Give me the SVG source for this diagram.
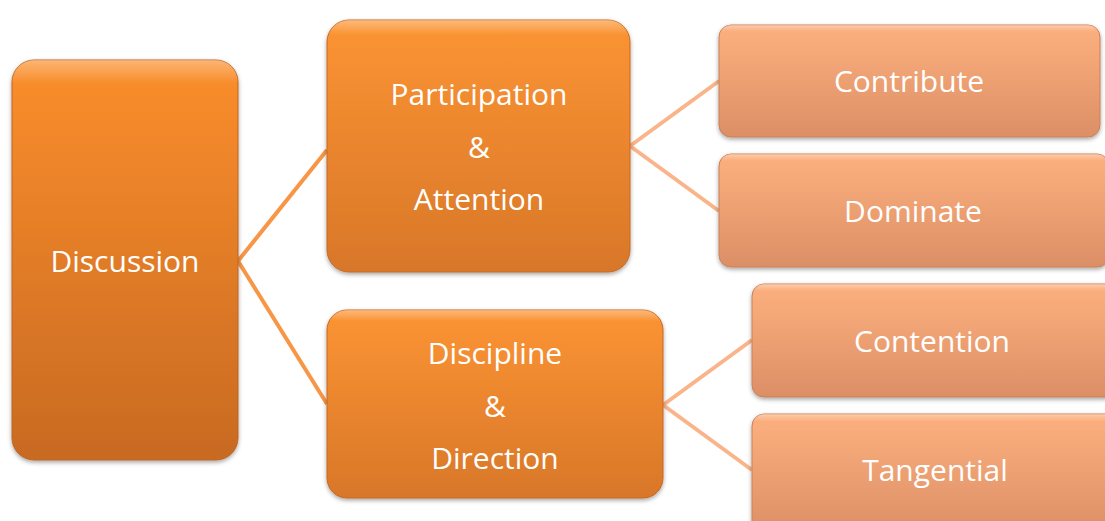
<svg xmlns="http://www.w3.org/2000/svg" width="1105" height="521" viewBox="0 0 1105 521">
<defs>
<linearGradient id="gMain" x1="0" y1="0" x2="0" y2="1">
<stop offset="0" stop-color="#fb8e2c"/>
<stop offset="1" stop-color="#c86a22"/>
</linearGradient>
<linearGradient id="gMid" x1="0" y1="0" x2="0" y2="1">
<stop offset="0" stop-color="#fc9432"/>
<stop offset="1" stop-color="#d8772a"/>
</linearGradient>
<linearGradient id="gLeaf" x1="0" y1="0" x2="0" y2="1">
<stop offset="0" stop-color="#fdb07e"/>
<stop offset="1" stop-color="#dc8f65"/>
</linearGradient>
<linearGradient id="gGloss" x1="0" y1="0" x2="0" y2="1">
<stop offset="0" stop-color="#ffffff" stop-opacity="0.35"/>
<stop offset="0.06" stop-color="#ffffff" stop-opacity="0"/>
<stop offset="1" stop-color="#ffffff" stop-opacity="0"/>
</linearGradient>
<filter id="shadow" x="-10%" y="-10%" width="120%" height="125%">
<feDropShadow dx="0" dy="2" stdDeviation="2" flood-color="#000" flood-opacity="0.35"/>
</filter>
</defs>
<style>
.t{font-family:"Open Sans","Liberation Sans",sans-serif;fill:#ffffff;text-anchor:middle;dominant-baseline:central;font-size:30px}
.edgeMain{stroke:#f79646;stroke-width:4;fill:none}
.edgeLeaf{stroke:#fab48a;stroke-width:4;fill:none}
.main{fill:url(#gMain);stroke:#c0651f;stroke-width:1;filter:url(#shadow)}
.mid{fill:url(#gMid);stroke:#c8681f;stroke-width:1;filter:url(#shadow)}
.leaf{fill:url(#gLeaf);stroke:#c98059;stroke-width:1;filter:url(#shadow)}
</style>
<g id="connectors">
<path class="edgeMain" d="M238,261 L327,150"/>
<path class="edgeMain" d="M238,261 L327,404"/>
<path class="edgeLeaf" d="M630,146 L719,81"/>
<path class="edgeLeaf" d="M630,146 L719,211"/>
<path class="edgeLeaf" d="M663,405 L752,340"/>
<path class="edgeLeaf" d="M663,405 L752,470"/>
</g>
<g id="discussion">
<rect class="main" x="12" y="60" width="226" height="400" rx="22"/>
<rect x="12" y="60" width="226" height="400" rx="22" fill="url(#gGloss)"/>
<text class="t" x="125" y="260">Discussion</text>
</g>
<g id="participation">
<rect class="mid" x="327" y="20" width="303" height="252" rx="22"/>
<rect x="327" y="20" width="303" height="252" rx="22" fill="url(#gGloss)"/>
<text class="t" x="479" y="93">Participation</text>
<text class="t" x="479" y="146">&amp;</text>
<text class="t" x="479" y="198">Attention</text>
</g>
<g id="discipline">
<rect class="mid" x="327" y="310" width="336" height="188" rx="20"/>
<rect x="327" y="310" width="336" height="188" rx="20" fill="url(#gGloss)"/>
<text class="t" x="495" y="352">Discipline</text>
<text class="t" x="495" y="405">&amp;</text>
<text class="t" x="495" y="457">Direction</text>
</g>
<g id="contribute">
<rect class="leaf" x="719" y="25" width="381" height="112" rx="12"/>
<rect x="719" y="25" width="381" height="112" rx="12" fill="url(#gGloss)"/>
<text class="t" x="909" y="80">Contribute</text>
</g>
<g id="dominate">
<rect class="leaf" x="719" y="154" width="390" height="113" rx="12"/>
<rect x="719" y="154" width="390" height="113" rx="12" fill="url(#gGloss)"/>
<text class="t" x="913" y="210">Dominate</text>
</g>
<g id="contention">
<rect class="leaf" x="752" y="284" width="365" height="113" rx="12"/>
<rect x="752" y="284" width="365" height="113" rx="12" fill="url(#gGloss)"/>
<text class="t" x="932" y="340">Contention</text>
</g>
<g id="tangential">
<rect class="leaf" x="752" y="414" width="365" height="120" rx="12"/>
<rect x="752" y="414" width="365" height="120" rx="12" fill="url(#gGloss)"/>
<text class="t" x="935" y="469">Tangential</text>
</g>
</svg>
